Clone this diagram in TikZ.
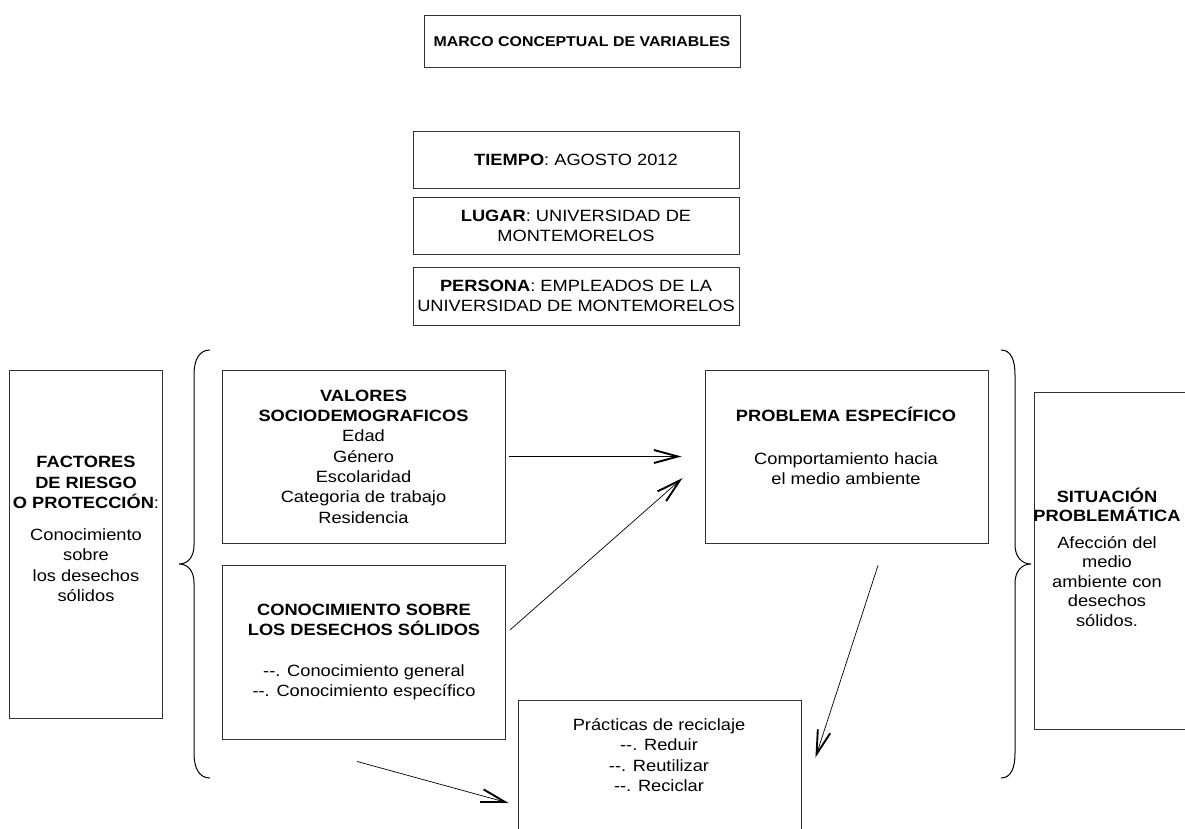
\documentclass[tikz,border=0pt]{standalone}
\usepackage{fontspec}
\setmainfont[FakeStretch=1.12]{Liberation Sans}
\usetikzlibrary{arrows.meta}
\newcommand{\dd}{-{}-.}
\begin{document}
\begin{tikzpicture}[x=1pt,y=-1pt,
  box/.style={draw=black!80, line width=0.9pt, inner sep=0pt},
  txt/.style={align=center, inner sep=0pt, font=\fontsize{16.3}{20.3}\selectfont},
  arr/.style={line width=0.7pt, -{Straight Barb[length=24pt,width=13pt,line width=1.9pt]}},
  bracepath/.style={line width=1pt, black}
]
\useasboundingbox (0,0) rectangle (1185,829);
\fill[white] (0,0) rectangle (1185,829);

% header boxes
\node[box, txt, minimum width=316pt, minimum height=52pt, font=\bfseries\fontsize{14.2}{18}\selectfont] (title) at (582,41.5) {MARCO CONCEPTUAL DE VARIABLES};
\node[box, txt, minimum width=326pt, minimum height=57pt] (tiempo) at (576,160) {\textbf{TIEMPO}: AGOSTO 2012};
\node[box, txt, minimum width=326pt, minimum height=57pt] (lugar) at (576,226) {\textbf{LUGAR}: UNIVERSIDAD DE\\MONTEMORELOS};
\node[box, txt, minimum width=326pt, minimum height=58pt] (persona) at (576,296) {\textbf{PERSONA}: EMPLEADOS DE LA\\UNIVERSIDAD DE MONTEMORELOS};

% left box
\node[box, minimum width=153pt, minimum height=348pt] (fac) at (85.5,544) {};
\node[txt] (factxt) at (86,529) {\textbf{FACTORES}\\\textbf{DE RIESGO}\\\textbf{O PROTECCIÓN}:\\[12pt]Conocimiento\\sobre\\los desechos\\sólidos};

% middle boxes
\node[box, txt, minimum width=283pt, minimum height=173pt] (val) at (363.5,456.5) {\textbf{VALORES}\\\textbf{SOCIODEMOGRAFICOS}\\Edad\\Género\\Escolaridad\\Categoria de trabajo\\Residencia};
\node[box, txt, minimum width=283pt, minimum height=174pt] (con) at (364,652) {\textbf{CONOCIMIENTO SOBRE}\\\textbf{LOS DESECHOS SÓLIDOS}\\[20pt]\dd{} Conocimiento general\\\dd{} Conocimiento específico};

\node[box, minimum width=283pt, minimum height=173pt] (prob) at (846.5,456.5) {};
\node[txt] (probtxt) at (846,446) {\textbf{PROBLEMA ESPECÍFICO}\\[22pt]Comportamiento hacia\\el medio ambiente};

\node[box, minimum width=283pt, minimum height=160pt] (prac) at (659.5,780) {};
\node[txt] (practxt) at (659,755) {Prácticas de reciclaje\\\dd{} Reduir\\\dd{} Reutilizar\\\dd{} Reciclar};

% right box
\node[box, minimum width=196pt, minimum height=337pt] (sit) at (1132,560.5) {};
\node[txt, font=\fontsize{16.3}{19.5}\selectfont] (sittxt) at (1107,557) {\textbf{SITUACIÓN}\\\textbf{PROBLEMÁTICA}\\[7pt]Afección del\\medio\\ambiente con\\desechos\\sólidos.};

% braces
\draw[bracepath] (210,350) .. controls (199,350) and (194,360) .. (194,375) -- (194,545)
  .. controls (194,557) and (188,564) .. (179,564)
  .. controls (188,564) and (194,571) .. (194,583) -- (194,753)
  .. controls (194,768) and (199,778) .. (210,778);
\draw[bracepath] (1001,350) .. controls (1011,350) and (1015,360) .. (1015,375) -- (1015,545)
  .. controls (1015,557) and (1022,564) .. (1031,564)
  .. controls (1022,564) and (1015,571) .. (1015,583) -- (1015,753)
  .. controls (1015,768) and (1011,778) .. (1001,778);

% arrow end points
\coordinate (a1s) at ([xshift=4pt]val.east);
\coordinate (a1e) at ([xshift=-23pt]prob.west);
\coordinate (a2s) at ([xshift=4pt,yshift=22pt]con.east);
\coordinate (a2e) at ([xshift=-22pt,yshift=-21.5pt]prob.west);
\coordinate (a3s) at ([xshift=-7pt,yshift=-22pt]con.south);
\coordinate (a3e) at ([xshift=-9pt,yshift=-23pt]prac.west);
\coordinate (a4s) at ([xshift=31.5pt,yshift=-22pt]prob.south);
\coordinate (a4e) at ([xshift=14pt,yshift=-58pt]prac.north east);

\draw[arr] (a1s) -- (a1e);
\draw[arr] (a2s) -- (a2e);
\draw[arr] (a3s) -- (a3e);
\draw[arr] (a4s) -- (a4e);
\end{tikzpicture}
\end{document}
